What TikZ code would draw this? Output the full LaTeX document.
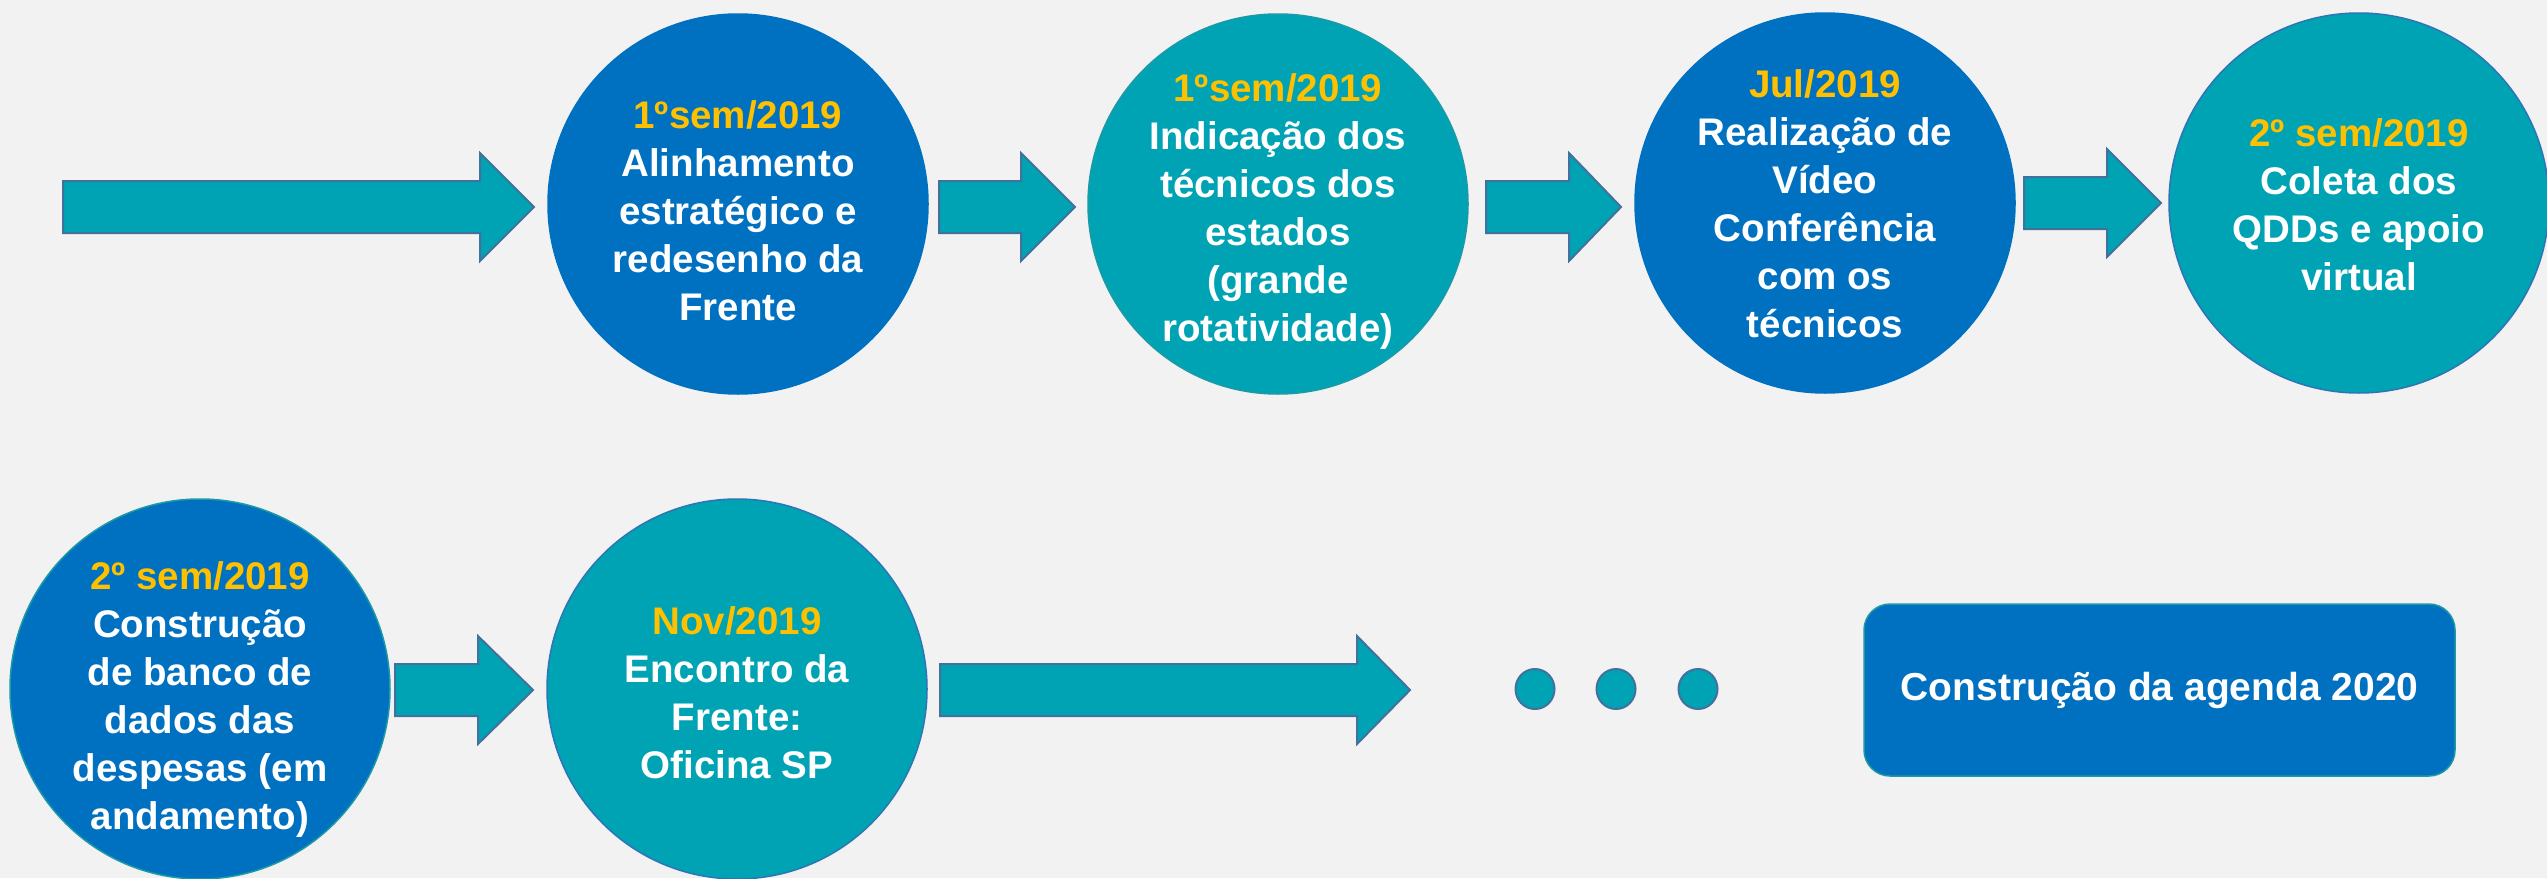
\documentclass[tikz,border=0pt]{standalone}
\usepackage{fontspec}
\usetikzlibrary{shapes.geometric}
\setmainfont{Liberation Sans}
\definecolor{bgc}{HTML}{F2F2F2}
\definecolor{cblue}{HTML}{0070C0}
\definecolor{cteal}{HTML}{00A3B4}
\definecolor{cgold}{HTML}{FFC000}
\definecolor{cline}{HTML}{41719C}
\definecolor{ctealline}{HTML}{1C9AA6}
\definecolor{cblueline}{HTML}{2E75B6}
\tikzset{
  stage/.style={circle, minimum size=380pt, inner sep=0pt, line width=1.5pt},
  bluestage/.style={stage, fill=cblue, draw=ctealline},
  tealstage/.style={stage, fill=cteal, draw=cblueline},
  stagetext/.style={align=center, text=white, font=\fontsize{38.5pt}{48pt}\selectfont\bfseries},
  barrow/.style={fill=cteal, draw=cline, line width=2pt, line join=miter},
  dot/.style={ellipse, minimum width=39pt, minimum height=40pt, inner sep=0pt, fill=cteal, draw=cline, line width=2pt},
  agenda/.style={rectangle, rounded corners=26pt, fill=cblue, draw=ctealline, line width=1.5pt, minimum width=591pt, minimum height=172pt, text=white, font=\fontsize{39pt}{48pt}\selectfont\bfseries}
}
\newcommand{\gold}[1]{\textcolor{cgold}{#1}}
\begin{document}
\begin{tikzpicture}[x=1pt,y=-1pt]
\fill[bgc] (0,0) rectangle (2547,878);
\useasboundingbox (0,0) rectangle (2547,878);
% row 1 arrows
\draw[barrow] (63,181) -- (480,181) -- (480,153) -- (534,207) -- (480,261) -- (480,233) -- (63,233) -- cycle;
\draw[barrow] (939,181) -- (1021,181) -- (1021,153) -- (1075,207) -- (1021,261) -- (1021,233) -- (939,233) -- cycle;
\draw[barrow] (1486,181) -- (1569,181) -- (1569,153) -- (1621,207) -- (1569,261) -- (1569,233) -- (1486,233) -- cycle;
\draw[barrow] (2024,177) -- (2107,177) -- (2107,149) -- (2161,203) -- (2107,257) -- (2107,229) -- (2024,229) -- cycle;
% row 2 arrows
\draw[barrow] (395,664) -- (478,664) -- (478,636) -- (533,690) -- (478,744) -- (478,716) -- (395,716) -- cycle;
\draw[barrow] (940,664) -- (1357,664) -- (1357,636) -- (1410,690) -- (1357,744) -- (1357,716) -- (940,716) -- cycle;
% circles
\node[bluestage, draw=cblue] (c1) at (738,204) {};
\node[stagetext] (t1) at (738,211) {\gold{1ºsem/2019}\\Alinhamento\\estratégico e\\redesenho da\\Frente};
\node[tealstage, draw=ctealline] (c2) at (1278,204) {};
\node[stagetext] (t2) at (1278,212) {\gold{1ºsem/2019}\\Indicação dos\\técnicos dos\\estados\\(grande\\rotatividade)};
\node[bluestage, draw=cblue] (c3) at (1825,203) {};
\node[stagetext] (t3) at (1825,204) {\gold{Jul/2019}\\Realização de\\Vídeo\\Conferência\\com os\\técnicos};
\node[tealstage] (c4) at (2359,203) {};
\node[stagetext] (t4) at (2359,205) {\gold{2º sem/2019}\\Coleta dos\\QDDs e apoio\\virtual};
\node[bluestage] (c5) at (200,689) {};
\node[stagetext] (t5) at (200,700) {\gold{2º sem/2019}\\Construção\\de banco de\\dados das\\despesas (em\\andamento)};
\node[tealstage] (c6) at (737,689) {};
\node[stagetext] (t6) at (737,693) {\gold{Nov/2019}\\Encontro da\\Frente:\\Oficina SP};
% dots
\node[dot] (d1) at (1535,689) {};
\node[dot] (d2) at (1616,689) {};
\node[dot] (d3) at (1698,689) {};
% agenda box
\node[agenda] (ag) at (2159.5,690) {Construção da agenda 2020};
\end{tikzpicture}
\end{document}
